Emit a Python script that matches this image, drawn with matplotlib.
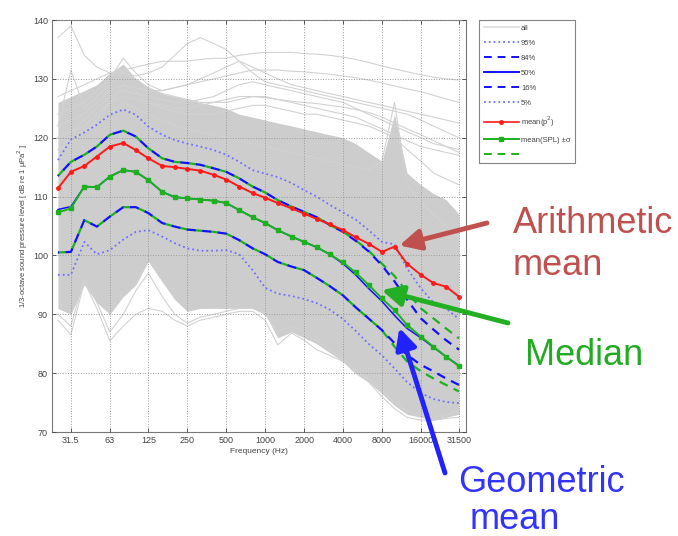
import matplotlib
matplotlib.use("Agg")
import matplotlib.pyplot as plt
from matplotlib.lines import Line2D

plt.rcParams['font.family'] = ['Liberation Sans', 'DejaVu Sans']

# 1/3-octave band centre frequencies (Hz)
freqs = [25, 31.5, 40, 50, 63, 80, 100, 125, 160, 200, 250, 315, 400, 500, 630, 800,
         1000, 1250, 1600, 2000, 2500, 3150, 4000, 5000, 6300, 8000, 10000, 12500,
         16000, 20000, 25000, 31500]
tick_freqs = [31.5, 63, 125, 250, 500, 1000, 2000, 4000, 8000, 16000, 31500]
tick_labels = ['31.5', '63', '125', '250', '500', '1000', '2000', '4000', '8000', '16000', '31500']

# grey cloud of all spectra: dense band + a few stray curves
grey_hi = [126, 127, 128, 129, 131, 132.5, 130, 128.5, 127.5, 127, 126.5, 126, 125.5, 125, 124, 123.5,
           123, 122.5, 122, 121.5, 121, 120.5, 120, 119, 117.5, 116, 124, 114, 112, 110.5, 109.5, 107]
grey_lo = [91, 90, 95, 92, 90, 93, 95, 99, 95.5, 92.5, 90.5, 91, 91, 91, 91, 91,
           90, 86, 87, 86, 85, 83.5, 82, 80, 78.5, 76.5, 74.5, 73, 72.5, 72, 72.5, 73]
grey_lines = [
    [127, 128, 129, 130, 131, 131.5, 132, 132.5, 133, 133, 133, 133.3, 133.5, 133.5, 134, 134.3,
     134.5, 134.5, 134.5, 134.3, 134.2, 134, 133.7, 133.3, 132.8, 132.2, 131.7, 131.2, 130.7, 130.3, 130, 129.8],
    [137, 139, 134, 132, 131, 131, 130.5, 131, 132, 134, 136, 137, 136, 135, 133, 131,
     129.5, 129, 128.5, 128, 127.5, 127, 126.5, 126, 125.5, 125, 124.5, 124, 123, 122, 121, 120],
    [118, 120, 121, 122, 124, 126, 125, 124, 123, 122, 121.5, 121, 120.5, 120, 119.5, 119,
     118.5, 118, 117.5, 117, 116.5, 116, 115.5, 115, 114.5, 116, 126, 112, 109, 107, 105, 103],
    [124, 125, 126, 128, 130, 133.5, 131, 129, 128, 128.5, 129, 130, 131, 132, 133, 132,
     131, 130, 129, 128.5, 128, 127.5, 127, 126.5, 126, 125.5, 125, 124.5, 124, 123.5, 123, 122.5],
    [122, 131.5, 125, 127, 129, 131, 130, 128.5, 127.5, 127, 126.5, 126, 126, 126, 126.5, 127,
     127, 126.5, 126, 125.5, 125, 124.5, 124, 123.5, 122.5, 121.5, 120.5, 119.5, 118.5, 118, 117.5, 117],
    [120, 121, 123, 125, 127, 128, 127.5, 127, 126.5, 126, 126, 126.5, 127, 128, 129, 129.5,
     129, 128.5, 128, 127.5, 127, 126.5, 126, 125, 124, 123, 122, 121, 120, 119, 118.5, 118],
    [118, 119, 121, 123, 126, 129, 128, 126, 125, 124.5, 124, 124, 124, 124.5, 125, 125.5,
     125.5, 125, 124.5, 124, 124, 123.5, 123, 122.5, 122, 121, 120, 118, 116, 114, 113, 112],
    [122, 123, 124, 126, 128, 129, 128.5, 128, 128, 128.5, 129, 129.5, 130, 130.5, 131, 131.5,
     131.5, 131.5, 131.3, 131.2, 131, 130.8, 130.5, 130.2, 129.8, 129.3, 128.8, 128.3, 127.8, 127.2, 126.6, 126],
    [120, 121, 122, 124, 126, 127, 126.5, 126, 125.5, 125, 125, 125.5, 126, 126.5, 127, 127,
     126.8, 126.5, 126.2, 126, 125.8, 125.5, 125.2, 124.8, 124.3, 123.5, 122.5, 121.5, 120.5, 119.5, 118.5, 117.5],
    [89, 86.5, 95.5, 91, 85.5, 88, 90, 91, 90.5, 89, 88, 89, 89.5, 90, 90.5, 90.5,
     89, 84.8, 86.8, 85.6, 84, 83, 82, 80, 78.5, 76, 74, 72.5, 72, 72, 72.3, 72.5],
    [90, 88, 96, 92, 87, 90, 94, 97, 93, 90, 88.5, 89.5, 90, 90.5, 91, 91,
     90, 87, 88, 87, 85.5, 84, 82.5, 80.5, 79, 77, 75, 73.5, 73, 72.5, 73, 73.5],
]

# percentiles (dB)
p95 = [116.2, 119.7, 120.9, 122.2, 123.9, 124.8, 123.9, 121.9, 120.5, 119.6, 119.0, 118.5, 117.9, 117.1, 115.9, 114.5,
       113.9, 113.3, 112.3, 111.1, 110.0, 108.6, 107.3, 106.1, 104.3, 102.3, 101.9, 97.8, 94.4, 92.0, 91.0, 89.2]
p84 = [113.5, 115.9, 117.1, 118.5, 120.5, 121.2, 120.2, 118.2, 116.5, 115.9, 115.7, 115.4, 114.8, 114.2, 113.1, 111.7,
       110.7, 109.4, 108.3, 107.4, 106.5, 105.2, 104.0, 102.5, 100.7, 98.3, 95.6, 92.5, 89.3, 87.4, 85.6, 84.0]
p50 = [107.8, 108.3, 111.7, 111.6, 113.4, 114.5, 114.2, 112.8, 110.8, 109.9, 109.7, 109.5, 109.3, 108.9, 107.7, 106.5,
       105.5, 104.3, 103.2, 102.3, 101.4, 100.2, 98.6, 96.7, 94.4, 92.2, 89.8, 87.6, 86.0, 84.4, 82.8, 81.3]
p16 = [100.5, 100.6, 106.0, 104.9, 106.6, 108.2, 108.2, 107.2, 105.5, 104.9, 104.4, 104.2, 104.0, 103.7, 102.6, 101.2,
       100.2, 98.9, 98.1, 97.5, 96.2, 94.8, 93.2, 91.2, 89.3, 87.3, 85.1, 83.1, 81.4, 80.3, 79.1, 78.0]
p5 = [96.7, 96.7, 102.3, 100.2, 100.9, 102.7, 104.0, 104.3, 103.2, 102.1, 101.2, 100.8, 100.8, 100.9, 100.2, 97.5,
      94.5, 93.5, 93.1, 92.6, 91.9, 90.8, 89.2, 87.2, 85.0, 83.0, 80.8, 78.5, 76.6, 75.6, 75.1, 74.9]

# means
mean_p2 = [111.4, 114.2, 115.2, 116.8, 118.5, 119.1, 117.9, 116.5, 115.2, 115.0, 114.7, 114.4, 113.7, 112.9, 111.7, 110.6,
           109.8, 108.9, 108.0, 107.1, 106.2, 105.3, 104.3, 103.1, 102.0, 100.6, 101.5, 98.6, 96.7, 95.3, 94.7, 93.0]
mean_spl = [107.3, 108.0, 111.7, 111.6, 113.4, 114.5, 114.2, 112.8, 110.8, 109.9, 109.7, 109.5, 109.3, 108.9, 107.7, 106.5,
            105.5, 104.3, 103.2, 102.3, 101.4, 100.2, 98.8, 97.1, 95.0, 92.7, 90.7, 88.2, 86.2, 84.5, 82.8, 81.2]
mean_plus = [113.5, 115.9, 117.1, 118.5, 120.5, 121.2, 120.2, 118.2, 116.5, 115.9, 115.7, 115.4, 114.8, 114.2, 113.1, 111.7,
             110.7, 109.4, 108.3, 107.4, 106.5, 105.2, 104.0, 102.6, 100.8, 98.6, 96.5, 93.8, 91.0, 89.3, 87.6, 85.9]
mean_minus = [100.5, 100.6, 106.0, 104.9, 106.6, 108.2, 108.2, 107.2, 105.5, 104.9, 104.4, 104.2, 104.0, 103.7, 102.6, 101.2,
              100.2, 98.9, 98.1, 97.5, 96.2, 94.8, 93.2, 91.2, 89.3, 87.3, 84.5, 82.0, 80.3, 79.1, 78.0, 76.9]

grey = '#cdcdcd'
dot_blue = '#6f6fff'
green = '#1fb01f'
blue = '#1010ff'

fig = plt.figure(figsize=(6.78, 5.36), dpi=100)
ax = fig.add_axes([52 / 678, 104 / 536, 414 / 678, 412 / 536])

ax.fill_between(freqs, grey_lo, grey_hi, color=grey, lw=0, zorder=1)
for g in grey_lines:
    ax.plot(freqs, g, color='#d2d2d2', lw=0.8, zorder=1)

ax.plot(freqs, p95, ':', color=dot_blue, lw=1.3, zorder=3)
ax.plot(freqs, p5, ':', color=dot_blue, lw=1.3, zorder=3)
ax.plot(freqs, mean_plus, color=green, lw=1.6, ls=(0, (4, 3)), zorder=3)
ax.plot(freqs, mean_minus, color=green, lw=1.6, ls=(0, (4, 3)), zorder=3)
ax.plot(freqs, p84, color=blue, lw=1.6, ls=(3.5, (4, 3)), zorder=4)
ax.plot(freqs, p16, color=blue, lw=1.6, ls=(3.5, (4, 3)), zorder=4)
ax.plot(freqs, p50, '-', color=blue, lw=1.1, zorder=4)
ax.plot(freqs, mean_spl, '-s', color=green, lw=1.4, ms=3, zorder=5)
ax.plot(freqs, mean_p2, '-o', color='#ff1a1a', lw=1.4, ms=2.5, zorder=6)

ax.set_xscale('log')
ax.set_xlim(22.5, 35700)
ax.set_ylim(70, 140)
ax.set_xticks(tick_freqs)
ax.set_xticklabels(tick_labels)
ax.minorticks_off()
ax.set_yticks(range(70, 141, 10))
ax.tick_params(direction='in', length=3, width=0.6, top=True, right=True,
               labelsize=6.5, colors='#444444', pad=3)
ax.grid(True, linestyle=':', color='#9a9a9a', lw=0.7)
ax.set_axisbelow(False)
for s in ax.spines.values():
    s.set_color('#777777')
    s.set_linewidth(0.8)
ax.set_xlabel('Frequency (Hz)', fontsize=6, color='#444444', labelpad=2)
ax.set_ylabel('1/3-octave sound pressure level [ dB re 1 μPa$^2$ ]', fontsize=5.5,
              color='#444444', labelpad=2)

handles = [
    Line2D([], [], color='#dddddd', lw=1.2),
    Line2D([], [], color=dot_blue, ls=':', lw=1.3),
    Line2D([], [], color=blue, ls=(0, (4, 3)), lw=1.4),
    Line2D([], [], color=blue, ls='-', lw=1.4),
    Line2D([], [], color=blue, ls=(0, (4, 3)), lw=1.4),
    Line2D([], [], color=dot_blue, ls=':', lw=1.3),
    Line2D([], [], color='#ff1a1a', marker='o', ms=2.5, lw=1.2),
    Line2D([], [], color=green, marker='s', ms=3, lw=1.4),
    Line2D([], [], color=green, ls=(0, (4, 3)), lw=1.4),
]
labels = ['all', '95%', '84%', '50%', '16%', '5%', 'mean(p$^2$)', 'mean(SPL) ±σ', '']
leg = fig.legend(handles, labels, loc='upper left', bbox_to_anchor=(479 / 678, 516 / 536),
                 fontsize=5.5, frameon=True, fancybox=False, edgecolor='#666666',
                 handlelength=4.6, handletextpad=0.3, labelspacing=1.0, borderpad=0.6,
                 borderaxespad=0)
leg.get_frame().set_linewidth(0.8)
for t in leg.get_texts():
    t.set_color('#444444')

# annotations
red_txt = '#c0504d'
grn_txt = '#22aa22'
blu_txt = '#3333ff'
fig.text(513 / 678, (536 - 233) / 536, 'Arithmetic', fontsize=26, color=red_txt, va='baseline')
fig.text(513 / 678, (536 - 275) / 536, 'mean', fontsize=26, color=red_txt, va='baseline')
fig.text(525 / 678, (536 - 365) / 536, 'Median', fontsize=26, color=grn_txt, va='baseline')
fig.text(458 / 678, (536 - 492) / 536, 'Geometric', fontsize=26, color=blu_txt, va='baseline')
fig.text(470 / 678, (536 - 529) / 536, 'mean', fontsize=26, color=blu_txt, va='baseline')

arrow = '-|>,head_length=0.7,head_width=0.35'
ax.annotate('', xy=(10900, 101.7), xytext=(487, 536 - 223), textcoords='figure pixels',
            arrowprops=dict(arrowstyle=arrow, color=red_txt, lw=3.5, mutation_scale=18,
                            shrinkA=0, shrinkB=0), annotation_clip=False, zorder=10)
ax.annotate('', xy=(7950, 94.1), xytext=(508, 536 - 323), textcoords='figure pixels',
            arrowprops=dict(arrowstyle=arrow, color='#22b022', lw=3.5, mutation_scale=18,
                            shrinkA=0, shrinkB=0), annotation_clip=False, zorder=10)
ax.annotate('', xy=(10900, 87.7), xytext=(445, 536 - 473), textcoords='figure pixels',
            arrowprops=dict(arrowstyle=arrow, color='#2222ff', lw=3.5, mutation_scale=18,
                            shrinkA=0, shrinkB=0), annotation_clip=False, zorder=10)

fig.savefig('out.png', dpi=100)
